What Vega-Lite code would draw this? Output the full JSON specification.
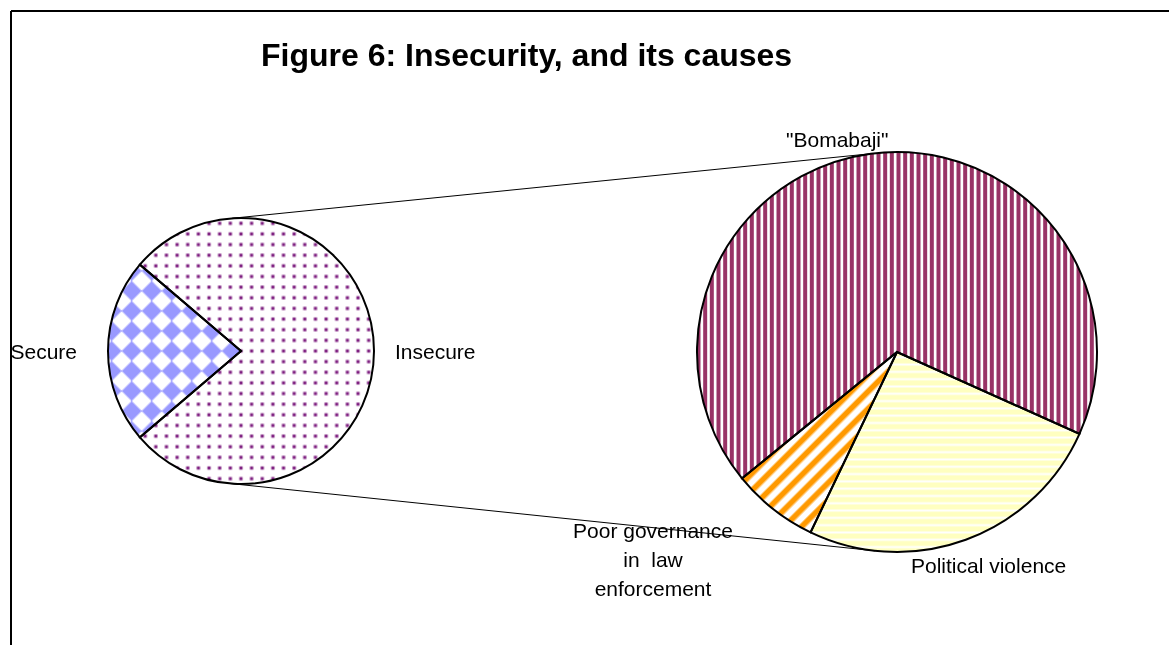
{
"$schema":"https://vega.github.io/schema/vega-lite/v6.json",
"width":1169,"height":645,"padding":0,"autosize":"none",
"background":"white",
"config":{"view":{"stroke":null},"font":"Liberation Sans","text":{"font":"Liberation Sans","fontSize":21,"color":"black"}},
"datasets":{
 "overall":[{"segment":"Insecure","share":77.5},{"segment":"Secure","share":22.5}],
 "causes":[{"cause":"\"Bomabaji\"","share":67.6},{"cause":"Political violence","share":25.4},{"cause":"Poor governance\nin\u00a0 law\nenforcement","share":7}]
},
"resolve":{"scale":{"theta":"independent"}},
"layer":[
 {"data":{"values":[{}]},"mark":{"type":"rule","stroke":"black","strokeWidth":2},
  "encoding":{"x":{"datum":11,"type":"quantitative","scale":{"domain":[0,1169],"nice":false,"zero":false},"axis":null},
   "y":{"datum":11,"type":"quantitative","scale":{"domain":[0,645],"nice":false,"zero":false,"reverse":true},"axis":null},"y2":{"datum":645}}},
 {"data":{"values":[{}]},"mark":{"type":"rule","stroke":"black","strokeWidth":2},
  "encoding":{"x":{"datum":11,"type":"quantitative","scale":{"domain":[0,1169],"nice":false,"zero":false},"axis":null},"x2":{"datum":1169},
   "y":{"datum":11,"type":"quantitative","scale":{"domain":[0,645],"nice":false,"zero":false,"reverse":true},"axis":null}}},
 {"data":{"values":[{}]},"mark":{"type":"rule","stroke":"black","strokeWidth":1},
  "encoding":{"x":{"datum":232,"type":"quantitative","scale":{"domain":[0,1169],"nice":false,"zero":false},"axis":null},"x2":{"datum":871},
   "y":{"datum":218.3,"type":"quantitative","scale":{"domain":[0,645],"nice":false,"zero":false,"reverse":true},"axis":null},"y2":{"datum":153.7}}},
 {"data":{"values":[{}]},"mark":{"type":"rule","stroke":"black","strokeWidth":1},
  "encoding":{"x":{"datum":230,"type":"quantitative","scale":{"domain":[0,1169],"nice":false,"zero":false},"axis":null},"x2":{"datum":875},
   "y":{"datum":483.5,"type":"quantitative","scale":{"domain":[0,645],"nice":false,"zero":false,"reverse":true},"axis":null},"y2":{"datum":550.8}}},

 {"data":{"name":"overall"},
  "transform":[{"stack":"share","groupby":[],"as":["s0","s1"]},{"filter":{"field":"segment","equal":"Insecure"}}],
  "mark":{"type":"arc","radius":133,"fill":"#7e1f80"},
  "encoding":{"x":{"datum":241,"type":"quantitative","scale":{"domain":[0,1169],"nice":false,"zero":false},"axis":null},
   "y":{"datum":351,"type":"quantitative","scale":{"domain":[0,645],"nice":false,"zero":false,"reverse":true},"axis":null},
   "theta":{"field":"s0","type":"quantitative","scale":{"domain":[0,100],"range":[-0.8639,5.4193]}},"theta2":{"field":"s1"}}},
 {"data":{"name":"overall"},
  "transform":[{"stack":"share","groupby":[],"as":["s0","s1"]},{"filter":{"field":"segment","equal":"Insecure"}}],
  "mark":{"type":"arc","radius":133,"fill":{"gradient":"linear","x1":0,"y1":0,"x2":0,"y2":1,"stops":[
   {"offset":0,"color":"#fff"},
   {"offset":0.01,"color":"#fff"},{"offset":0.018,"color":"rgba(255,255,255,0)"},{"offset":0.022,"color":"rgba(255,255,255,0)"},{"offset":0.03,"color":"#fff"},
   {"offset":0.05,"color":"#fff"},{"offset":0.058,"color":"rgba(255,255,255,0)"},{"offset":0.062,"color":"rgba(255,255,255,0)"},{"offset":0.07,"color":"#fff"},
   {"offset":0.09,"color":"#fff"},{"offset":0.098,"color":"rgba(255,255,255,0)"},{"offset":0.102,"color":"rgba(255,255,255,0)"},{"offset":0.11,"color":"#fff"},
   {"offset":0.13,"color":"#fff"},{"offset":0.138,"color":"rgba(255,255,255,0)"},{"offset":0.142,"color":"rgba(255,255,255,0)"},{"offset":0.15,"color":"#fff"},
   {"offset":0.17,"color":"#fff"},{"offset":0.178,"color":"rgba(255,255,255,0)"},{"offset":0.182,"color":"rgba(255,255,255,0)"},{"offset":0.19,"color":"#fff"},
   {"offset":0.21,"color":"#fff"},{"offset":0.218,"color":"rgba(255,255,255,0)"},{"offset":0.222,"color":"rgba(255,255,255,0)"},{"offset":0.23,"color":"#fff"},
   {"offset":0.25,"color":"#fff"},{"offset":0.258,"color":"rgba(255,255,255,0)"},{"offset":0.262,"color":"rgba(255,255,255,0)"},{"offset":0.27,"color":"#fff"},
   {"offset":0.29,"color":"#fff"},{"offset":0.298,"color":"rgba(255,255,255,0)"},{"offset":0.302,"color":"rgba(255,255,255,0)"},{"offset":0.31,"color":"#fff"},
   {"offset":0.33,"color":"#fff"},{"offset":0.338,"color":"rgba(255,255,255,0)"},{"offset":0.342,"color":"rgba(255,255,255,0)"},{"offset":0.35,"color":"#fff"},
   {"offset":0.37,"color":"#fff"},{"offset":0.378,"color":"rgba(255,255,255,0)"},{"offset":0.382,"color":"rgba(255,255,255,0)"},{"offset":0.39,"color":"#fff"},
   {"offset":0.41,"color":"#fff"},{"offset":0.418,"color":"rgba(255,255,255,0)"},{"offset":0.422,"color":"rgba(255,255,255,0)"},{"offset":0.43,"color":"#fff"},
   {"offset":0.45,"color":"#fff"},{"offset":0.458,"color":"rgba(255,255,255,0)"},{"offset":0.462,"color":"rgba(255,255,255,0)"},{"offset":0.47,"color":"#fff"},
   {"offset":0.49,"color":"#fff"},{"offset":0.498,"color":"rgba(255,255,255,0)"},{"offset":0.502,"color":"rgba(255,255,255,0)"},{"offset":0.51,"color":"#fff"},
   {"offset":0.53,"color":"#fff"},{"offset":0.538,"color":"rgba(255,255,255,0)"},{"offset":0.542,"color":"rgba(255,255,255,0)"},{"offset":0.55,"color":"#fff"},
   {"offset":0.57,"color":"#fff"},{"offset":0.578,"color":"rgba(255,255,255,0)"},{"offset":0.582,"color":"rgba(255,255,255,0)"},{"offset":0.59,"color":"#fff"},
   {"offset":0.61,"color":"#fff"},{"offset":0.618,"color":"rgba(255,255,255,0)"},{"offset":0.622,"color":"rgba(255,255,255,0)"},{"offset":0.63,"color":"#fff"},
   {"offset":0.65,"color":"#fff"},{"offset":0.658,"color":"rgba(255,255,255,0)"},{"offset":0.662,"color":"rgba(255,255,255,0)"},{"offset":0.67,"color":"#fff"},
   {"offset":0.69,"color":"#fff"},{"offset":0.698,"color":"rgba(255,255,255,0)"},{"offset":0.702,"color":"rgba(255,255,255,0)"},{"offset":0.71,"color":"#fff"},
   {"offset":0.73,"color":"#fff"},{"offset":0.738,"color":"rgba(255,255,255,0)"},{"offset":0.742,"color":"rgba(255,255,255,0)"},{"offset":0.75,"color":"#fff"},
   {"offset":0.77,"color":"#fff"},{"offset":0.778,"color":"rgba(255,255,255,0)"},{"offset":0.782,"color":"rgba(255,255,255,0)"},{"offset":0.79,"color":"#fff"},
   {"offset":0.81,"color":"#fff"},{"offset":0.818,"color":"rgba(255,255,255,0)"},{"offset":0.822,"color":"rgba(255,255,255,0)"},{"offset":0.83,"color":"#fff"},
   {"offset":0.85,"color":"#fff"},{"offset":0.858,"color":"rgba(255,255,255,0)"},{"offset":0.862,"color":"rgba(255,255,255,0)"},{"offset":0.87,"color":"#fff"},
   {"offset":0.89,"color":"#fff"},{"offset":0.898,"color":"rgba(255,255,255,0)"},{"offset":0.902,"color":"rgba(255,255,255,0)"},{"offset":0.91,"color":"#fff"},
   {"offset":0.93,"color":"#fff"},{"offset":0.938,"color":"rgba(255,255,255,0)"},{"offset":0.942,"color":"rgba(255,255,255,0)"},{"offset":0.95,"color":"#fff"},
   {"offset":0.97,"color":"#fff"},{"offset":0.978,"color":"rgba(255,255,255,0)"},{"offset":0.982,"color":"rgba(255,255,255,0)"},{"offset":0.99,"color":"#fff"},
   {"offset":1,"color":"#fff"}]}},
  "encoding":{"x":{"datum":241,"type":"quantitative","scale":{"domain":[0,1169],"nice":false,"zero":false},"axis":null},
   "y":{"datum":351,"type":"quantitative","scale":{"domain":[0,645],"nice":false,"zero":false,"reverse":true},"axis":null},
   "theta":{"field":"s0","type":"quantitative","scale":{"domain":[0,100],"range":[-0.8639,5.4193]}},"theta2":{"field":"s1"}}},
 {"data":{"name":"overall"},
  "transform":[{"stack":"share","groupby":[],"as":["s0","s1"]},{"filter":{"field":"segment","equal":"Insecure"}}],
  "mark":{"type":"arc","radius":133,"fill":{"gradient":"linear","x1":0,"y1":0,"x2":1,"y2":0,"stops":[
   {"offset":0,"color":"#fff"},
   {"offset":0.0113,"color":"#fff"},{"offset":0.0204,"color":"rgba(255,255,255,0)"},{"offset":0.025,"color":"rgba(255,255,255,0)"},{"offset":0.0341,"color":"#fff"},
   {"offset":0.0568,"color":"#fff"},{"offset":0.0659,"color":"rgba(255,255,255,0)"},{"offset":0.0705,"color":"rgba(255,255,255,0)"},{"offset":0.0796,"color":"#fff"},
   {"offset":0.1022,"color":"#fff"},{"offset":0.1113,"color":"rgba(255,255,255,0)"},{"offset":0.1159,"color":"rgba(255,255,255,0)"},{"offset":0.125,"color":"#fff"},
   {"offset":0.1477,"color":"#fff"},{"offset":0.1568,"color":"rgba(255,255,255,0)"},{"offset":0.1614,"color":"rgba(255,255,255,0)"},{"offset":0.1705,"color":"#fff"},
   {"offset":0.1931,"color":"#fff"},{"offset":0.2022,"color":"rgba(255,255,255,0)"},{"offset":0.2068,"color":"rgba(255,255,255,0)"},{"offset":0.2159,"color":"#fff"},
   {"offset":0.2386,"color":"#fff"},{"offset":0.2477,"color":"rgba(255,255,255,0)"},{"offset":0.2523,"color":"rgba(255,255,255,0)"},{"offset":0.2614,"color":"#fff"},
   {"offset":0.2841,"color":"#fff"},{"offset":0.2932,"color":"rgba(255,255,255,0)"},{"offset":0.2978,"color":"rgba(255,255,255,0)"},{"offset":0.3069,"color":"#fff"},
   {"offset":0.3295,"color":"#fff"},{"offset":0.3386,"color":"rgba(255,255,255,0)"},{"offset":0.3432,"color":"rgba(255,255,255,0)"},{"offset":0.3523,"color":"#fff"},
   {"offset":0.375,"color":"#fff"},{"offset":0.3841,"color":"rgba(255,255,255,0)"},{"offset":0.3887,"color":"rgba(255,255,255,0)"},{"offset":0.3978,"color":"#fff"},
   {"offset":0.4204,"color":"#fff"},{"offset":0.4295,"color":"rgba(255,255,255,0)"},{"offset":0.4341,"color":"rgba(255,255,255,0)"},{"offset":0.4432,"color":"#fff"},
   {"offset":0.4659,"color":"#fff"},{"offset":0.475,"color":"rgba(255,255,255,0)"},{"offset":0.4796,"color":"rgba(255,255,255,0)"},{"offset":0.4887,"color":"#fff"},
   {"offset":0.5113,"color":"#fff"},{"offset":0.5204,"color":"rgba(255,255,255,0)"},{"offset":0.525,"color":"rgba(255,255,255,0)"},{"offset":0.5341,"color":"#fff"},
   {"offset":0.5568,"color":"#fff"},{"offset":0.5659,"color":"rgba(255,255,255,0)"},{"offset":0.5705,"color":"rgba(255,255,255,0)"},{"offset":0.5796,"color":"#fff"},
   {"offset":0.6022,"color":"#fff"},{"offset":0.6113,"color":"rgba(255,255,255,0)"},{"offset":0.6159,"color":"rgba(255,255,255,0)"},{"offset":0.625,"color":"#fff"},
   {"offset":0.6477,"color":"#fff"},{"offset":0.6568,"color":"rgba(255,255,255,0)"},{"offset":0.6614,"color":"rgba(255,255,255,0)"},{"offset":0.6705,"color":"#fff"},
   {"offset":0.6931,"color":"#fff"},{"offset":0.7022,"color":"rgba(255,255,255,0)"},{"offset":0.7068,"color":"rgba(255,255,255,0)"},{"offset":0.7159,"color":"#fff"},
   {"offset":0.7386,"color":"#fff"},{"offset":0.7477,"color":"rgba(255,255,255,0)"},{"offset":0.7523,"color":"rgba(255,255,255,0)"},{"offset":0.7614,"color":"#fff"},
   {"offset":0.7841,"color":"#fff"},{"offset":0.7932,"color":"rgba(255,255,255,0)"},{"offset":0.7978,"color":"rgba(255,255,255,0)"},{"offset":0.8069,"color":"#fff"},
   {"offset":0.8295,"color":"#fff"},{"offset":0.8386,"color":"rgba(255,255,255,0)"},{"offset":0.8432,"color":"rgba(255,255,255,0)"},{"offset":0.8523,"color":"#fff"},
   {"offset":0.875,"color":"#fff"},{"offset":0.8841,"color":"rgba(255,255,255,0)"},{"offset":0.8887,"color":"rgba(255,255,255,0)"},{"offset":0.8978,"color":"#fff"},
   {"offset":0.9204,"color":"#fff"},{"offset":0.9295,"color":"rgba(255,255,255,0)"},{"offset":0.9341,"color":"rgba(255,255,255,0)"},{"offset":0.9432,"color":"#fff"},
   {"offset":0.9659,"color":"#fff"},{"offset":0.975,"color":"rgba(255,255,255,0)"},{"offset":0.9796,"color":"rgba(255,255,255,0)"},{"offset":0.9887,"color":"#fff"},
   {"offset":1,"color":"#fff"}]}},
  "encoding":{"x":{"datum":241,"type":"quantitative","scale":{"domain":[0,1169],"nice":false,"zero":false},"axis":null},
   "y":{"datum":351,"type":"quantitative","scale":{"domain":[0,645],"nice":false,"zero":false,"reverse":true},"axis":null},
   "theta":{"field":"s0","type":"quantitative","scale":{"domain":[0,100],"range":[-0.8639,5.4193]}},"theta2":{"field":"s1"}}},

 {"data":{"name":"overall"},
  "transform":[{"stack":"share","groupby":[],"as":["s0","s1"]},{"filter":{"field":"segment","equal":"Secure"}}],
  "mark":{"type":"arc","radius":133,"fill":{"gradient":"linear","x1":0,"y1":0,"x2":1,"y2":1.2992,"stops":[
   {"offset":0,"color":"#000"},{"offset":0.052,"color":"#000"},{"offset":0.06,"color":"#fff"},{"offset":0.108,"color":"#fff"},{"offset":0.116,"color":"#000"},{"offset":0.164,"color":"#000"},{"offset":0.172,"color":"#fff"},{"offset":0.22,"color":"#fff"},{"offset":0.228,"color":"#000"},{"offset":0.276,"color":"#000"},{"offset":0.284,"color":"#fff"},{"offset":0.332,"color":"#fff"},{"offset":0.34,"color":"#000"},{"offset":0.388,"color":"#000"},{"offset":0.396,"color":"#fff"},{"offset":0.444,"color":"#fff"},{"offset":0.452,"color":"#000"},{"offset":0.5,"color":"#000"},{"offset":0.508,"color":"#fff"},{"offset":0.556,"color":"#fff"},{"offset":0.564,"color":"#000"},{"offset":0.612,"color":"#000"},{"offset":0.62,"color":"#fff"},{"offset":0.668,"color":"#fff"},{"offset":0.676,"color":"#000"},{"offset":0.724,"color":"#000"},{"offset":0.732,"color":"#fff"},{"offset":0.78,"color":"#fff"},{"offset":0.788,"color":"#000"},{"offset":0.836,"color":"#000"},{"offset":0.844,"color":"#fff"},{"offset":0.892,"color":"#fff"},{"offset":0.9,"color":"#000"},{"offset":0.948,"color":"#000"},{"offset":0.956,"color":"#fff"},{"offset":1,"color":"#fff"}]}},
  "encoding":{"x":{"datum":241,"type":"quantitative","scale":{"domain":[0,1169],"nice":false,"zero":false},"axis":null},
   "y":{"datum":351,"type":"quantitative","scale":{"domain":[0,645],"nice":false,"zero":false,"reverse":true},"axis":null},
   "theta":{"field":"s0","type":"quantitative","scale":{"domain":[0,100],"range":[-0.8639,5.4193]}},"theta2":{"field":"s1"}}},
 {"data":{"name":"overall"},
  "transform":[{"stack":"share","groupby":[],"as":["s0","s1"]},{"filter":{"field":"segment","equal":"Secure"}}],
  "mark":{"type":"arc","radius":133,"blend":"difference","fill":{"gradient":"linear","x1":0,"y1":1,"x2":1,"y2":-0.2992,"stops":[
   {"offset":0,"color":"#000"},{"offset":0.052,"color":"#000"},{"offset":0.06,"color":"#fff"},{"offset":0.108,"color":"#fff"},{"offset":0.116,"color":"#000"},{"offset":0.164,"color":"#000"},{"offset":0.172,"color":"#fff"},{"offset":0.22,"color":"#fff"},{"offset":0.228,"color":"#000"},{"offset":0.276,"color":"#000"},{"offset":0.284,"color":"#fff"},{"offset":0.332,"color":"#fff"},{"offset":0.34,"color":"#000"},{"offset":0.388,"color":"#000"},{"offset":0.396,"color":"#fff"},{"offset":0.444,"color":"#fff"},{"offset":0.452,"color":"#000"},{"offset":0.5,"color":"#000"},{"offset":0.508,"color":"#fff"},{"offset":0.556,"color":"#fff"},{"offset":0.564,"color":"#000"},{"offset":0.612,"color":"#000"},{"offset":0.62,"color":"#fff"},{"offset":0.668,"color":"#fff"},{"offset":0.676,"color":"#000"},{"offset":0.724,"color":"#000"},{"offset":0.732,"color":"#fff"},{"offset":0.78,"color":"#fff"},{"offset":0.788,"color":"#000"},{"offset":0.836,"color":"#000"},{"offset":0.844,"color":"#fff"},{"offset":0.892,"color":"#fff"},{"offset":0.9,"color":"#000"},{"offset":0.948,"color":"#000"},{"offset":0.956,"color":"#fff"},{"offset":1,"color":"#fff"}]}},
  "encoding":{"x":{"datum":241,"type":"quantitative","scale":{"domain":[0,1169],"nice":false,"zero":false},"axis":null},
   "y":{"datum":351,"type":"quantitative","scale":{"domain":[0,645],"nice":false,"zero":false,"reverse":true},"axis":null},
   "theta":{"field":"s0","type":"quantitative","scale":{"domain":[0,100],"range":[-0.8639,5.4193]}},"theta2":{"field":"s1"}}},
 {"data":{"name":"overall"},
  "transform":[{"stack":"share","groupby":[],"as":["s0","s1"]},{"filter":{"field":"segment","equal":"Secure"}}],
  "mark":{"type":"arc","radius":133,"blend":"screen","fill":"#9999ff"},
  "encoding":{"x":{"datum":241,"type":"quantitative","scale":{"domain":[0,1169],"nice":false,"zero":false},"axis":null},
   "y":{"datum":351,"type":"quantitative","scale":{"domain":[0,645],"nice":false,"zero":false,"reverse":true},"axis":null},
   "theta":{"field":"s0","type":"quantitative","scale":{"domain":[0,100],"range":[-0.8639,5.4193]}},"theta2":{"field":"s1"}}},
 {"data":{"name":"overall"},
  "transform":[{"stack":"share","groupby":[],"as":["s0","s1"]}],
  "mark":{"type":"arc","radius":133,"filled":false,"stroke":"black","strokeWidth":2},
  "encoding":{"x":{"datum":241,"type":"quantitative","scale":{"domain":[0,1169],"nice":false,"zero":false},"axis":null},
   "y":{"datum":351,"type":"quantitative","scale":{"domain":[0,645],"nice":false,"zero":false,"reverse":true},"axis":null},
   "theta":{"field":"s0","type":"quantitative","scale":{"domain":[0,100],"range":[-0.8639,5.4193]}},"theta2":{"field":"s1"}}},

 {"data":{"name":"causes"},
  "transform":[{"stack":"share","groupby":[],"as":["s0","s1"]},{"filter":{"field":"cause","equal":"\"Bomabaji\""}}],
  "mark":{"type":"arc","radius":200,"fill":{"gradient":"linear","x1":0,"y1":0,"x2":1,"y2":0,"stops":[
   {"offset":0,"color":"#936"},{"offset":0.0075,"color":"#936"},{"offset":0.01,"color":"#fff"},{"offset":0.0142,"color":"#fff"},{"offset":0.0167,"color":"#936"},{"offset":0.0242,"color":"#936"},{"offset":0.0267,"color":"#fff"},{"offset":0.0308,"color":"#fff"},{"offset":0.0333,"color":"#936"},{"offset":0.0408,"color":"#936"},{"offset":0.0433,"color":"#fff"},{"offset":0.0475,"color":"#fff"},
   {"offset":0.05,"color":"#936"},{"offset":0.0575,"color":"#936"},{"offset":0.06,"color":"#fff"},{"offset":0.0642,"color":"#fff"},{"offset":0.0667,"color":"#936"},{"offset":0.0742,"color":"#936"},{"offset":0.0767,"color":"#fff"},{"offset":0.0808,"color":"#fff"},{"offset":0.0833,"color":"#936"},{"offset":0.0908,"color":"#936"},{"offset":0.0933,"color":"#fff"},{"offset":0.0975,"color":"#fff"},
   {"offset":0.1,"color":"#936"},{"offset":0.1075,"color":"#936"},{"offset":0.11,"color":"#fff"},{"offset":0.1142,"color":"#fff"},{"offset":0.1167,"color":"#936"},{"offset":0.1242,"color":"#936"},{"offset":0.1267,"color":"#fff"},{"offset":0.1308,"color":"#fff"},{"offset":0.1333,"color":"#936"},{"offset":0.1408,"color":"#936"},{"offset":0.1433,"color":"#fff"},{"offset":0.1475,"color":"#fff"},
   {"offset":0.15,"color":"#936"},{"offset":0.1575,"color":"#936"},{"offset":0.16,"color":"#fff"},{"offset":0.1642,"color":"#fff"},{"offset":0.1667,"color":"#936"},{"offset":0.1742,"color":"#936"},{"offset":0.1767,"color":"#fff"},{"offset":0.1808,"color":"#fff"},{"offset":0.1833,"color":"#936"},{"offset":0.1908,"color":"#936"},{"offset":0.1933,"color":"#fff"},{"offset":0.1975,"color":"#fff"},
   {"offset":0.2,"color":"#936"},{"offset":0.2075,"color":"#936"},{"offset":0.21,"color":"#fff"},{"offset":0.2142,"color":"#fff"},{"offset":0.2167,"color":"#936"},{"offset":0.2242,"color":"#936"},{"offset":0.2267,"color":"#fff"},{"offset":0.2308,"color":"#fff"},{"offset":0.2333,"color":"#936"},{"offset":0.2408,"color":"#936"},{"offset":0.2433,"color":"#fff"},{"offset":0.2475,"color":"#fff"},
   {"offset":0.25,"color":"#936"},{"offset":0.2575,"color":"#936"},{"offset":0.26,"color":"#fff"},{"offset":0.2642,"color":"#fff"},{"offset":0.2667,"color":"#936"},{"offset":0.2742,"color":"#936"},{"offset":0.2767,"color":"#fff"},{"offset":0.2808,"color":"#fff"},{"offset":0.2833,"color":"#936"},{"offset":0.2908,"color":"#936"},{"offset":0.2933,"color":"#fff"},{"offset":0.2975,"color":"#fff"},
   {"offset":0.3,"color":"#936"},{"offset":0.3075,"color":"#936"},{"offset":0.31,"color":"#fff"},{"offset":0.3142,"color":"#fff"},{"offset":0.3167,"color":"#936"},{"offset":0.3242,"color":"#936"},{"offset":0.3267,"color":"#fff"},{"offset":0.3308,"color":"#fff"},{"offset":0.3333,"color":"#936"},{"offset":0.3408,"color":"#936"},{"offset":0.3433,"color":"#fff"},{"offset":0.3475,"color":"#fff"},
   {"offset":0.35,"color":"#936"},{"offset":0.3575,"color":"#936"},{"offset":0.36,"color":"#fff"},{"offset":0.3642,"color":"#fff"},{"offset":0.3667,"color":"#936"},{"offset":0.3742,"color":"#936"},{"offset":0.3767,"color":"#fff"},{"offset":0.3808,"color":"#fff"},{"offset":0.3833,"color":"#936"},{"offset":0.3908,"color":"#936"},{"offset":0.3933,"color":"#fff"},{"offset":0.3975,"color":"#fff"},
   {"offset":0.4,"color":"#936"},{"offset":0.4075,"color":"#936"},{"offset":0.41,"color":"#fff"},{"offset":0.4142,"color":"#fff"},{"offset":0.4167,"color":"#936"},{"offset":0.4242,"color":"#936"},{"offset":0.4267,"color":"#fff"},{"offset":0.4308,"color":"#fff"},{"offset":0.4333,"color":"#936"},{"offset":0.4408,"color":"#936"},{"offset":0.4433,"color":"#fff"},{"offset":0.4475,"color":"#fff"},
   {"offset":0.45,"color":"#936"},{"offset":0.4575,"color":"#936"},{"offset":0.46,"color":"#fff"},{"offset":0.4642,"color":"#fff"},{"offset":0.4667,"color":"#936"},{"offset":0.4742,"color":"#936"},{"offset":0.4767,"color":"#fff"},{"offset":0.4808,"color":"#fff"},{"offset":0.4833,"color":"#936"},{"offset":0.4908,"color":"#936"},{"offset":0.4933,"color":"#fff"},{"offset":0.4975,"color":"#fff"},
   {"offset":0.5,"color":"#936"},{"offset":0.5075,"color":"#936"},{"offset":0.51,"color":"#fff"},{"offset":0.5142,"color":"#fff"},{"offset":0.5167,"color":"#936"},{"offset":0.5242,"color":"#936"},{"offset":0.5267,"color":"#fff"},{"offset":0.5308,"color":"#fff"},{"offset":0.5333,"color":"#936"},{"offset":0.5408,"color":"#936"},{"offset":0.5433,"color":"#fff"},{"offset":0.5475,"color":"#fff"},
   {"offset":0.55,"color":"#936"},{"offset":0.5575,"color":"#936"},{"offset":0.56,"color":"#fff"},{"offset":0.5642,"color":"#fff"},{"offset":0.5667,"color":"#936"},{"offset":0.5742,"color":"#936"},{"offset":0.5767,"color":"#fff"},{"offset":0.5808,"color":"#fff"},{"offset":0.5833,"color":"#936"},{"offset":0.5908,"color":"#936"},{"offset":0.5933,"color":"#fff"},{"offset":0.5975,"color":"#fff"},
   {"offset":0.6,"color":"#936"},{"offset":0.6075,"color":"#936"},{"offset":0.61,"color":"#fff"},{"offset":0.6142,"color":"#fff"},{"offset":0.6167,"color":"#936"},{"offset":0.6242,"color":"#936"},{"offset":0.6267,"color":"#fff"},{"offset":0.6308,"color":"#fff"},{"offset":0.6333,"color":"#936"},{"offset":0.6408,"color":"#936"},{"offset":0.6433,"color":"#fff"},{"offset":0.6475,"color":"#fff"},
   {"offset":0.65,"color":"#936"},{"offset":0.6575,"color":"#936"},{"offset":0.66,"color":"#fff"},{"offset":0.6642,"color":"#fff"},{"offset":0.6667,"color":"#936"},{"offset":0.6742,"color":"#936"},{"offset":0.6767,"color":"#fff"},{"offset":0.6808,"color":"#fff"},{"offset":0.6833,"color":"#936"},{"offset":0.6908,"color":"#936"},{"offset":0.6933,"color":"#fff"},{"offset":0.6975,"color":"#fff"},
   {"offset":0.7,"color":"#936"},{"offset":0.7075,"color":"#936"},{"offset":0.71,"color":"#fff"},{"offset":0.7142,"color":"#fff"},{"offset":0.7167,"color":"#936"},{"offset":0.7242,"color":"#936"},{"offset":0.7267,"color":"#fff"},{"offset":0.7308,"color":"#fff"},{"offset":0.7333,"color":"#936"},{"offset":0.7408,"color":"#936"},{"offset":0.7433,"color":"#fff"},{"offset":0.7475,"color":"#fff"},
   {"offset":0.75,"color":"#936"},{"offset":0.7575,"color":"#936"},{"offset":0.76,"color":"#fff"},{"offset":0.7642,"color":"#fff"},{"offset":0.7667,"color":"#936"},{"offset":0.7742,"color":"#936"},{"offset":0.7767,"color":"#fff"},{"offset":0.7808,"color":"#fff"},{"offset":0.7833,"color":"#936"},{"offset":0.7908,"color":"#936"},{"offset":0.7933,"color":"#fff"},{"offset":0.7975,"color":"#fff"},
   {"offset":0.8,"color":"#936"},{"offset":0.8075,"color":"#936"},{"offset":0.81,"color":"#fff"},{"offset":0.8142,"color":"#fff"},{"offset":0.8167,"color":"#936"},{"offset":0.8242,"color":"#936"},{"offset":0.8267,"color":"#fff"},{"offset":0.8308,"color":"#fff"},{"offset":0.8333,"color":"#936"},{"offset":0.8408,"color":"#936"},{"offset":0.8433,"color":"#fff"},{"offset":0.8475,"color":"#fff"},
   {"offset":0.85,"color":"#936"},{"offset":0.8575,"color":"#936"},{"offset":0.86,"color":"#fff"},{"offset":0.8642,"color":"#fff"},{"offset":0.8667,"color":"#936"},{"offset":0.8742,"color":"#936"},{"offset":0.8767,"color":"#fff"},{"offset":0.8808,"color":"#fff"},{"offset":0.8833,"color":"#936"},{"offset":0.8908,"color":"#936"},{"offset":0.8933,"color":"#fff"},{"offset":0.8975,"color":"#fff"},
   {"offset":0.9,"color":"#936"},{"offset":0.9075,"color":"#936"},{"offset":0.91,"color":"#fff"},{"offset":0.9142,"color":"#fff"},{"offset":0.9167,"color":"#936"},{"offset":0.9242,"color":"#936"},{"offset":0.9267,"color":"#fff"},{"offset":0.9308,"color":"#fff"},{"offset":0.9333,"color":"#936"},{"offset":0.9408,"color":"#936"},{"offset":0.9433,"color":"#fff"},{"offset":0.9475,"color":"#fff"},
   {"offset":0.95,"color":"#936"},{"offset":0.9575,"color":"#936"},{"offset":0.96,"color":"#fff"},{"offset":0.9642,"color":"#fff"},{"offset":0.9667,"color":"#936"},{"offset":0.9742,"color":"#936"},{"offset":0.9767,"color":"#fff"},{"offset":0.9808,"color":"#fff"},{"offset":0.9833,"color":"#936"},{"offset":0.9908,"color":"#936"},{"offset":0.9933,"color":"#fff"},{"offset":0.9975,"color":"#fff"},
   {"offset":1,"color":"#936"}]}},
  "encoding":{"x":{"datum":897,"type":"quantitative","scale":{"domain":[0,1169],"nice":false,"zero":false},"axis":null},
   "y":{"datum":352,"type":"quantitative","scale":{"domain":[0,645],"nice":false,"zero":false,"reverse":true},"axis":null},
   "theta":{"field":"s0","type":"quantitative","scale":{"domain":[0,100],"range":[-2.2549,4.0283]}},"theta2":{"field":"s1"}}},
 {"data":{"name":"causes"},
  "transform":[{"stack":"share","groupby":[],"as":["s0","s1"]},{"filter":{"field":"cause","equal":"Political violence"}}],
  "mark":{"type":"arc","radius":200,"fill":{"gradient":"linear","x1":0,"y1":0,"x2":0,"y2":1,"stops":[
   {"offset":0,"color":"#ffffc0"},{"offset":0.0164,"color":"#ffffc0"},{"offset":0.0263,"color":"#fff"},
   {"offset":0.0365,"color":"#ffffc0"},{"offset":0.0529,"color":"#ffffc0"},{"offset":0.0628,"color":"#fff"},
   {"offset":0.073,"color":"#ffffc0"},{"offset":0.0894,"color":"#ffffc0"},{"offset":0.0993,"color":"#fff"},
   {"offset":0.1095,"color":"#ffffc0"},{"offset":0.1259,"color":"#ffffc0"},{"offset":0.1358,"color":"#fff"},
   {"offset":0.146,"color":"#ffffc0"},{"offset":0.1624,"color":"#ffffc0"},{"offset":0.1723,"color":"#fff"},
   {"offset":0.1825,"color":"#ffffc0"},{"offset":0.1989,"color":"#ffffc0"},{"offset":0.2088,"color":"#fff"},
   {"offset":0.219,"color":"#ffffc0"},{"offset":0.2354,"color":"#ffffc0"},{"offset":0.2453,"color":"#fff"},
   {"offset":0.2555,"color":"#ffffc0"},{"offset":0.2719,"color":"#ffffc0"},{"offset":0.2818,"color":"#fff"},
   {"offset":0.292,"color":"#ffffc0"},{"offset":0.3084,"color":"#ffffc0"},{"offset":0.3183,"color":"#fff"},
   {"offset":0.3285,"color":"#ffffc0"},{"offset":0.3449,"color":"#ffffc0"},{"offset":0.3548,"color":"#fff"},
   {"offset":0.365,"color":"#ffffc0"},{"offset":0.3814,"color":"#ffffc0"},{"offset":0.3913,"color":"#fff"},
   {"offset":0.4015,"color":"#ffffc0"},{"offset":0.4179,"color":"#ffffc0"},{"offset":0.4278,"color":"#fff"},
   {"offset":0.438,"color":"#ffffc0"},{"offset":0.4544,"color":"#ffffc0"},{"offset":0.4643,"color":"#fff"},
   {"offset":0.4745,"color":"#ffffc0"},{"offset":0.4909,"color":"#ffffc0"},{"offset":0.5008,"color":"#fff"},
   {"offset":0.511,"color":"#ffffc0"},{"offset":0.5274,"color":"#ffffc0"},{"offset":0.5373,"color":"#fff"},
   {"offset":0.5475,"color":"#ffffc0"},{"offset":0.5639,"color":"#ffffc0"},{"offset":0.5738,"color":"#fff"},
   {"offset":0.584,"color":"#ffffc0"},{"offset":0.6004,"color":"#ffffc0"},{"offset":0.6103,"color":"#fff"},
   {"offset":0.6205,"color":"#ffffc0"},{"offset":0.6369,"color":"#ffffc0"},{"offset":0.6468,"color":"#fff"},
   {"offset":0.657,"color":"#ffffc0"},{"offset":0.6734,"color":"#ffffc0"},{"offset":0.6833,"color":"#fff"},
   {"offset":0.6935,"color":"#ffffc0"},{"offset":0.7099,"color":"#ffffc0"},{"offset":0.7198,"color":"#fff"},
   {"offset":0.73,"color":"#ffffc0"},{"offset":0.7464,"color":"#ffffc0"},{"offset":0.7563,"color":"#fff"},
   {"offset":0.7665,"color":"#ffffc0"},{"offset":0.7829,"color":"#ffffc0"},{"offset":0.7928,"color":"#fff"},
   {"offset":0.803,"color":"#ffffc0"},{"offset":0.8194,"color":"#ffffc0"},{"offset":0.8293,"color":"#fff"},
   {"offset":0.8395,"color":"#ffffc0"},{"offset":0.8559,"color":"#ffffc0"},{"offset":0.8658,"color":"#fff"},
   {"offset":0.876,"color":"#ffffc0"},{"offset":0.8924,"color":"#ffffc0"},{"offset":0.9023,"color":"#fff"},
   {"offset":0.9125,"color":"#ffffc0"},{"offset":0.9289,"color":"#ffffc0"},{"offset":0.9388,"color":"#fff"},
   {"offset":0.949,"color":"#ffffc0"},{"offset":0.9654,"color":"#ffffc0"},{"offset":0.9753,"color":"#fff"},
   {"offset":0.9855,"color":"#ffffc0"},{"offset":1,"color":"#ffffc0"}]}},
  "encoding":{"x":{"datum":897,"type":"quantitative","scale":{"domain":[0,1169],"nice":false,"zero":false},"axis":null},
   "y":{"datum":352,"type":"quantitative","scale":{"domain":[0,645],"nice":false,"zero":false,"reverse":true},"axis":null},
   "theta":{"field":"s0","type":"quantitative","scale":{"domain":[0,100],"range":[-2.2549,4.0283]}},"theta2":{"field":"s1"}}},
 {"data":{"name":"causes"},
  "transform":[{"stack":"share","groupby":[],"as":["s0","s1"]},{"filter":{"field":"share","lt":10}}],
  "mark":{"type":"arc","radius":200,"fill":{"gradient":"linear","x1":0,"y1":0,"x2":1,"y2":1.1639,"stops":[
   {"offset":0,"color":"#fff"},{"offset":0.0165,"color":"#fff"},{"offset":0.0235,"color":"#f90"},{"offset":0.0376,"color":"#f90"},
   {"offset":0.047,"color":"#fff"},{"offset":0.0635,"color":"#fff"},{"offset":0.0705,"color":"#f90"},{"offset":0.0846,"color":"#f90"},
   {"offset":0.094,"color":"#fff"},{"offset":0.1105,"color":"#fff"},{"offset":0.1175,"color":"#f90"},{"offset":0.1316,"color":"#f90"},
   {"offset":0.141,"color":"#fff"},{"offset":0.1575,"color":"#fff"},{"offset":0.1645,"color":"#f90"},{"offset":0.1786,"color":"#f90"},
   {"offset":0.188,"color":"#fff"},{"offset":0.2045,"color":"#fff"},{"offset":0.2115,"color":"#f90"},{"offset":0.2256,"color":"#f90"},
   {"offset":0.235,"color":"#fff"},{"offset":0.2515,"color":"#fff"},{"offset":0.2585,"color":"#f90"},{"offset":0.2726,"color":"#f90"},
   {"offset":0.282,"color":"#fff"},{"offset":0.2985,"color":"#fff"},{"offset":0.3055,"color":"#f90"},{"offset":0.3196,"color":"#f90"},
   {"offset":0.329,"color":"#fff"},{"offset":0.3455,"color":"#fff"},{"offset":0.3525,"color":"#f90"},{"offset":0.3666,"color":"#f90"},
   {"offset":0.376,"color":"#fff"},{"offset":0.3925,"color":"#fff"},{"offset":0.3995,"color":"#f90"},{"offset":0.4136,"color":"#f90"},
   {"offset":0.423,"color":"#fff"},{"offset":0.4395,"color":"#fff"},{"offset":0.4465,"color":"#f90"},{"offset":0.4606,"color":"#f90"},
   {"offset":0.47,"color":"#fff"},{"offset":0.4865,"color":"#fff"},{"offset":0.4935,"color":"#f90"},{"offset":0.5076,"color":"#f90"},
   {"offset":0.517,"color":"#fff"},{"offset":0.5335,"color":"#fff"},{"offset":0.5405,"color":"#f90"},{"offset":0.5546,"color":"#f90"},
   {"offset":0.564,"color":"#fff"},{"offset":0.5805,"color":"#fff"},{"offset":0.5875,"color":"#f90"},{"offset":0.6016,"color":"#f90"},
   {"offset":0.611,"color":"#fff"},{"offset":0.6275,"color":"#fff"},{"offset":0.6345,"color":"#f90"},{"offset":0.6486,"color":"#f90"},
   {"offset":0.658,"color":"#fff"},{"offset":0.6745,"color":"#fff"},{"offset":0.6815,"color":"#f90"},{"offset":0.6956,"color":"#f90"},
   {"offset":0.705,"color":"#fff"},{"offset":0.7215,"color":"#fff"},{"offset":0.7285,"color":"#f90"},{"offset":0.7426,"color":"#f90"},
   {"offset":0.752,"color":"#fff"},{"offset":0.7685,"color":"#fff"},{"offset":0.7755,"color":"#f90"},{"offset":0.7896,"color":"#f90"},
   {"offset":0.799,"color":"#fff"},{"offset":0.8155,"color":"#fff"},{"offset":0.8225,"color":"#f90"},{"offset":0.8366,"color":"#f90"},
   {"offset":0.846,"color":"#fff"},{"offset":0.8625,"color":"#fff"},{"offset":0.8695,"color":"#f90"},{"offset":0.8836,"color":"#f90"},
   {"offset":0.893,"color":"#fff"},{"offset":0.9095,"color":"#fff"},{"offset":0.9165,"color":"#f90"},{"offset":0.9306,"color":"#f90"},
   {"offset":0.94,"color":"#fff"},{"offset":1,"color":"#fff"}]}},
  "encoding":{"x":{"datum":897,"type":"quantitative","scale":{"domain":[0,1169],"nice":false,"zero":false},"axis":null},
   "y":{"datum":352,"type":"quantitative","scale":{"domain":[0,645],"nice":false,"zero":false,"reverse":true},"axis":null},
   "theta":{"field":"s0","type":"quantitative","scale":{"domain":[0,100],"range":[-2.2549,4.0283]}},"theta2":{"field":"s1"}}},
 {"data":{"name":"causes"},
  "transform":[{"stack":"share","groupby":[],"as":["s0","s1"]}],
  "mark":{"type":"arc","radius":200,"filled":false,"stroke":"black","strokeWidth":2},
  "encoding":{"x":{"datum":897,"type":"quantitative","scale":{"domain":[0,1169],"nice":false,"zero":false},"axis":null},
   "y":{"datum":352,"type":"quantitative","scale":{"domain":[0,645],"nice":false,"zero":false,"reverse":true},"axis":null},
   "theta":{"field":"s0","type":"quantitative","scale":{"domain":[0,100],"range":[-2.2549,4.0283]}},"theta2":{"field":"s1"}}},

 {"data":{"values":[{}]},
  "mark":{"type":"text","align":"left","baseline":"alphabetic","fontSize":32,"fontWeight":"bold"},
  "encoding":{"x":{"datum":261,"type":"quantitative","scale":{"domain":[0,1169],"nice":false,"zero":false},"axis":null},
   "y":{"datum":66,"type":"quantitative","scale":{"domain":[0,645],"nice":false,"zero":false,"reverse":true},"axis":null},
   "text":{"value":"Figure 6: Insecurity, and its causes"}}},
 {"data":{"name":"overall"},"transform":[{"filter":{"field":"segment","equal":"Secure"}}],
  "mark":{"type":"text","align":"right","baseline":"alphabetic"},
  "encoding":{"x":{"datum":77,"type":"quantitative","scale":{"domain":[0,1169],"nice":false,"zero":false},"axis":null},
   "y":{"datum":359,"type":"quantitative","scale":{"domain":[0,645],"nice":false,"zero":false,"reverse":true},"axis":null},
   "text":{"field":"segment"}}},
 {"data":{"name":"overall"},"transform":[{"filter":{"field":"segment","equal":"Insecure"}}],
  "mark":{"type":"text","align":"left","baseline":"alphabetic"},
  "encoding":{"x":{"datum":395,"type":"quantitative","scale":{"domain":[0,1169],"nice":false,"zero":false},"axis":null},
   "y":{"datum":359,"type":"quantitative","scale":{"domain":[0,645],"nice":false,"zero":false,"reverse":true},"axis":null},
   "text":{"field":"segment"}}},
 {"data":{"name":"causes"},"transform":[{"filter":{"field":"cause","equal":"\"Bomabaji\""}}],
  "mark":{"type":"text","align":"left","baseline":"alphabetic"},
  "encoding":{"x":{"datum":786,"type":"quantitative","scale":{"domain":[0,1169],"nice":false,"zero":false},"axis":null},
   "y":{"datum":147,"type":"quantitative","scale":{"domain":[0,645],"nice":false,"zero":false,"reverse":true},"axis":null},
   "text":{"field":"cause"}}},
 {"data":{"name":"causes"},"transform":[{"filter":{"field":"cause","equal":"Political violence"}}],
  "mark":{"type":"text","align":"left","baseline":"alphabetic"},
  "encoding":{"x":{"datum":911,"type":"quantitative","scale":{"domain":[0,1169],"nice":false,"zero":false},"axis":null},
   "y":{"datum":573,"type":"quantitative","scale":{"domain":[0,645],"nice":false,"zero":false,"reverse":true},"axis":null},
   "text":{"field":"cause"}}},
 {"data":{"name":"causes"},"transform":[{"filter":{"field":"share","lt":10}}],
  "mark":{"type":"text","align":"center","baseline":"alphabetic","lineBreak":"\n","lineHeight":29},
  "encoding":{"x":{"datum":653,"type":"quantitative","scale":{"domain":[0,1169],"nice":false,"zero":false},"axis":null},
   "y":{"datum":538,"type":"quantitative","scale":{"domain":[0,645],"nice":false,"zero":false,"reverse":true},"axis":null},
   "text":{"field":"cause"}}}
]
}
